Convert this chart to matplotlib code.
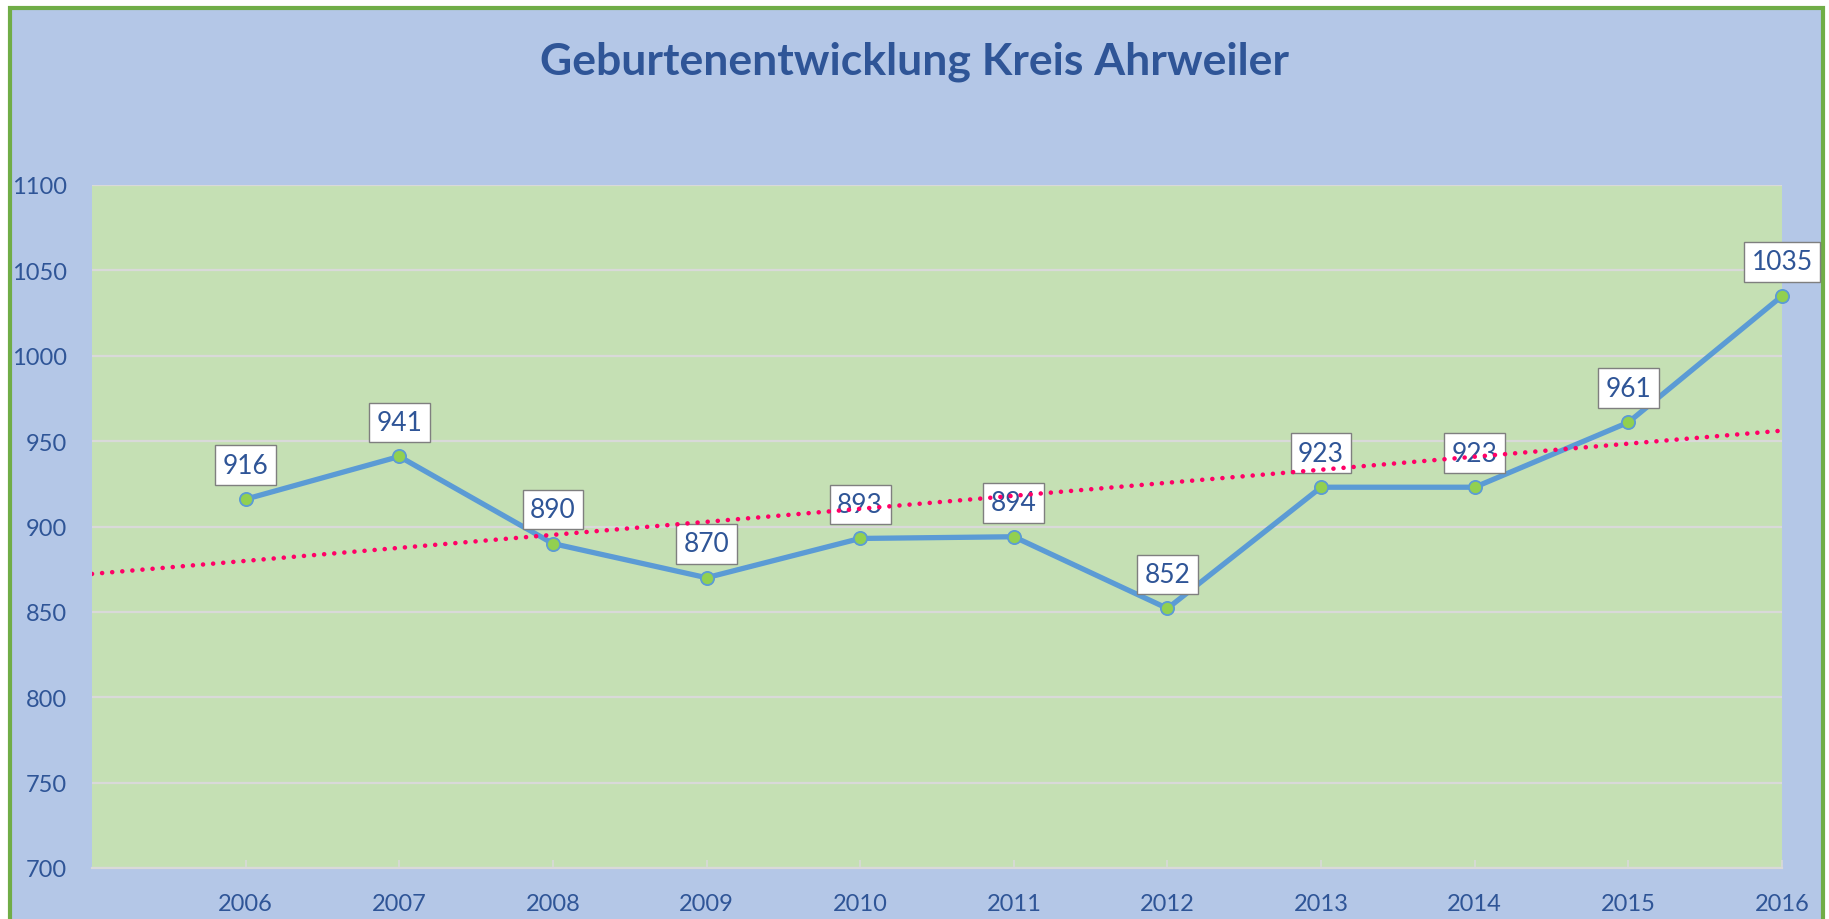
import numpy as np
import matplotlib
matplotlib.use("Agg")
import matplotlib.pyplot as plt
from matplotlib.patches import Rectangle

years = [2006, 2007, 2008, 2009, 2010, 2011, 2012, 2013, 2014, 2015, 2016]
births = [916, 941, 890, 870, 893, 894, 852, 923, 923, 961, 1035]
yticks = [700, 750, 800, 850, 900, 950, 1000, 1050, 1100]
title = "Geburtenentwicklung Kreis Ahrweiler"

W, H = 1829, 920
plt.rcParams['font.family'] = ['Lato', 'DejaVu Sans']
fig = plt.figure(figsize=(W / 100, H / 100), dpi=100, facecolor='white')

# chart frame
fig.patches.append(Rectangle((10 / W, -0.05), (1823 - 10) / W, (H - 9) / H + 0.05,
                             transform=fig.transFigure, facecolor='#B4C7E7',
                             edgecolor='#70AD47', linewidth=3.0, zorder=-10))

left, right, top, bottom = 92, 1782, 186, 869
ax = fig.add_axes([left / W, (H - bottom) / H, (right - left) / W, (bottom - top) / H])
ax.set_zorder(2)
ax.set_facecolor('#C5E0B4')

ax.set_xlim(2005, 2016)
ax.set_ylim(700, 1100)
ax.set_yticks(yticks)
ax.set_xticks(years)
ax.set_xticklabels([str(y) for y in years])
ax.grid(axis='y', color='#D9D9D9', linewidth=1.6, zorder=1)
ax.set_axisbelow(True)
for s in ['top', 'left', 'right']:
    ax.spines[s].set_visible(False)
ax.spines['bottom'].set_color('#D9D9D9')
ax.spines['bottom'].set_linewidth(1.6)
ax.tick_params(axis='y', length=0, pad=18, labelsize=17, labelcolor='#2F5597')
ax.tick_params(axis='x', direction='in', length=6, width=1.2, color='#D9D9D9',
               pad=18, labelsize=17, labelcolor='#2F5597')

ax.plot(years, births, color='#5B9BD5', linewidth=3.8, marker='o', markersize=9.5,
        markerfacecolor='#92D050', markeredgecolor='#5B9BD5', markeredgewidth=1.3,
        zorder=3, clip_on=False)

for x, y in zip(years, births):
    ax.annotate(str(y), (x, y), xytext=(0, 24.5), textcoords='offset points',
                ha='center', va='center', fontsize=19, color='#2F5597', zorder=4,
                annotation_clip=False,
                bbox=dict(boxstyle='square,pad=0.28', facecolor='white',
                          edgecolor='#7F7F7F', linewidth=1.0))

# linear trendline, backward forecast by one period
coef = np.polyfit(years, births, 1)
tx = np.array([2005, 2016])
ax.plot(tx, np.polyval(coef, tx), color='#FF0066', linewidth=3.3,
        linestyle=(0, (0.01, 2.2)), dash_capstyle='round', zorder=6)

fig.text(0.5, (H - 62) / H, title, ha='center', va='center', fontsize=32,
         fontweight='bold', color='#2F5597')

fig.savefig('out.png', dpi=100, facecolor='white')
